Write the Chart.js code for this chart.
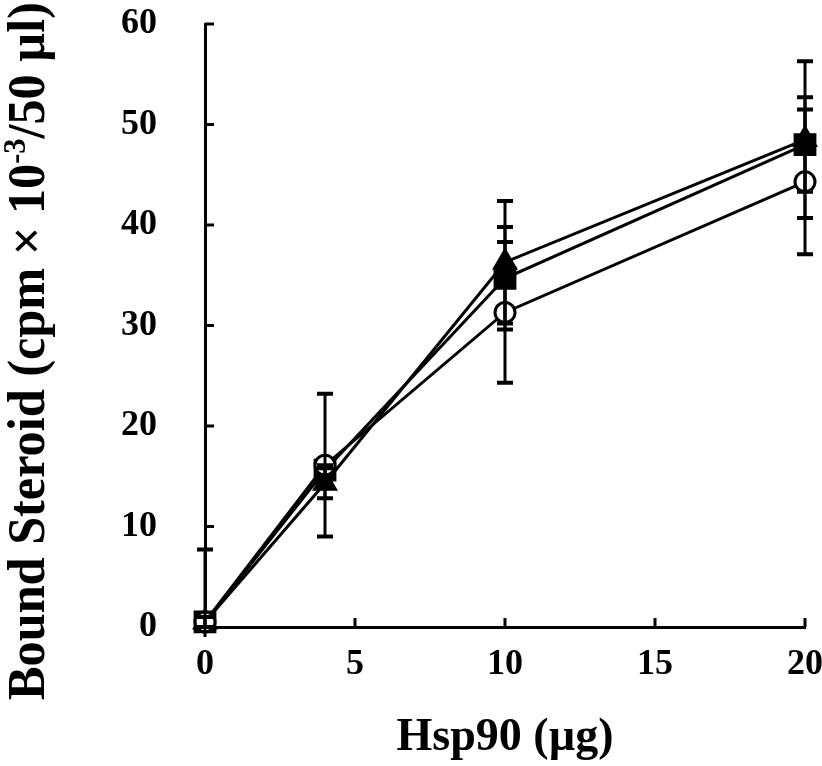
<!DOCTYPE html>
<html>
<head>
<meta charset="utf-8">
<script src="https://cdn.jsdelivr.net/npm/chart.js@4"></script>
<style>
  html, body { margin: 0; padding: 0; background: #fff; }
  #wrap { width: 822px; height: 766px; }
</style>
</head>
<body>
<div id="wrap"><canvas id="chart" width="822" height="766"></canvas></div>
<script>
// Hsp90 amounts (x) and bound steroid readings for the three series
const hsp90 = [0, 4, 10, 20];
const circleVals = [0.5, 16.1, 31.3, 44.3];
const circleErr = [7.2, 7.1, 7.0, 7.2];
const squareVals = [0.5, 15.6, 34.7, 48.0];
const squareErr = [0.5, 0.5, 5.1, 4.7];
const triangleVals = [0.5, 14.3, 36.3, 48.5];
const triangleErr = [0.5, 1.5, 6.1, 7.8];
const xTicks = [0, 5, 10, 15, 20];
const yTicks = [0, 10, 20, 30, 40, 50, 60];

const SERIF = '"Liberation Serif", "Times New Roman", serif';

const toPoints = vals => vals.map((v, i) => ({ x: hsp90[i], y: v }));

// keep the plot box fixed: no label overflow padding from the scales
const fixScale = (s, size) => {
  if (s.isHorizontal()) s.height = size; else s.width = size;
  s.paddingTop = 0;
  s.paddingBottom = 0;
  s.paddingLeft = 0;
  s.paddingRight = 0;
};

// Ticks pointing into the plot area
const innerTicks = {
  id: 'innerTicks',
  beforeDatasetsDraw(chart) {
    const { ctx, chartArea, scales: { x, y } } = chart;
    ctx.save();
    ctx.strokeStyle = '#000';
    ctx.lineWidth = 3;
    ctx.beginPath();
    xTicks.forEach(v => {
      const px = x.getPixelForValue(v);
      ctx.moveTo(px, chartArea.bottom);
      ctx.lineTo(px, chartArea.bottom - 9);
    });
    yTicks.forEach(v => {
      const py = y.getPixelForValue(v);
      ctx.moveTo(chartArea.left, py);
      ctx.lineTo(chartArea.left + 9, py);
    });
    ctx.stroke();
    ctx.restore();
  }
};

// Vertical error bars with caps, drawn over the markers
const errorBars = {
  id: 'errorBars',
  afterDatasetsDraw(chart) {
    const { ctx, chartArea, scales: { x, y } } = chart;
    ctx.save();
    ctx.beginPath();
    ctx.rect(chartArea.left - 30, chartArea.top - 10, chartArea.width + 60, chartArea.height + 20);
    ctx.clip();
    ctx.strokeStyle = '#000';
    chart.data.datasets.forEach(ds => {
      ds.data.forEach((pt, i) => {
        const e = ds.errors[i];
        const px = x.getPixelForValue(pt.x);
        const top = y.getPixelForValue(pt.y + e);
        const bot = y.getPixelForValue(pt.y - e);
        ctx.lineWidth = 3;
        ctx.beginPath();
        ctx.moveTo(px, top);
        ctx.lineTo(px, bot);
        ctx.stroke();
        ctx.lineWidth = 4;
        ctx.beginPath();
        ctx.moveTo(px - 8, top);
        ctx.lineTo(px + 8, top);
        ctx.moveTo(px - 8, bot);
        ctx.lineTo(px + 8, bot);
        ctx.stroke();
      });
    });
    ctx.restore();
  }
};

// Rotated y title with a superscript exponent
const yTitle = {
  id: 'yTitle',
  afterDraw(chart) {
    const { ctx } = chart;
    const parts = [
      { t: 'Bound Steroid (cpm \u00d7 10', sup: false },
      { t: '-3', sup: true },
      { t: '/50 \u00b5l)', sup: false }
    ];
    const mainFont = 'bold 48px ' + SERIF;
    const supFont = 'bold 29px ' + SERIF;
    ctx.save();
    let total = 0;
    parts.forEach(p => {
      ctx.font = p.sup ? supFont : mainFont;
      p.w = ctx.measureText(p.t).width;
      total += p.w;
    });
    ctx.translate(44, 700);
    ctx.rotate(-Math.PI / 2);
    ctx.scale(698 / total, 1.12);
    ctx.fillStyle = '#000';
    ctx.textBaseline = 'alphabetic';
    let pos = 0;
    parts.forEach(p => {
      ctx.font = p.sup ? supFont : mainFont;
      ctx.fillText(p.t, pos, p.sup ? -17 : 0);
      pos += p.w;
    });
    ctx.restore();
  }
};

const lineStyle = {
  borderColor: '#000',
  borderWidth: 3,
  tension: 0,
  pointBorderColor: '#000',
  pointBorderWidth: 3,
  clip: false
};

new Chart(document.getElementById('chart'), {
  type: 'line',
  data: {
    datasets: [
      Object.assign({
        label: 'circle',
        data: toPoints(circleVals),
        errors: circleErr,
        pointStyle: 'circle',
        pointRadius: 10,
        pointBackgroundColor: '#fff'
      }, lineStyle),
      Object.assign({
        label: 'square',
        data: toPoints(squareVals),
        errors: squareErr,
        pointStyle: 'rect',
        pointRadius: 14,
        pointBackgroundColor: '#000'
      }, lineStyle),
      Object.assign({
        label: 'triangle',
        data: toPoints(triangleVals),
        errors: triangleErr,
        pointStyle: 'triangle',
        pointRadius: 12,
        pointBackgroundColor: '#000'
      }, lineStyle)
    ]
  },
  options: {
    responsive: false,
    animation: false,
    layout: { autoPadding: false, padding: { left: 0, top: 24, right: 17, bottom: 0 } },
    plugins: {
      legend: { display: false },
      tooltip: { enabled: false }
    },
    scales: {
      x: {
        type: 'linear',
        min: 0,
        max: 20,
        afterFit: s => fixScale(s, 139),
        afterBuildTicks: s => { s.ticks = xTicks.map(v => ({ value: v })); },
        grid: { display: false, drawTicks: false, tickLength: 0 },
        border: { display: true, color: '#000', width: 3 },
        ticks: {
          color: '#000',
          padding: 16,
          font: { family: SERIF, size: 36, weight: 'bold' }
        },
        title: {
          display: true,
          text: 'Hsp90 (\u00b5g)',
          color: '#000',
          font: { family: SERIF, size: 46, weight: 'bold' },
          padding: { top: 0, bottom: 0 }
        }
      },
      y: {
        type: 'linear',
        min: 0,
        max: 60,
        afterFit: s => fixScale(s, 205),
        afterBuildTicks: s => { s.ticks = yTicks.map(v => ({ value: v })); },
        grid: { display: false, drawTicks: false, tickLength: 0 },
        border: { display: true, color: '#000', width: 3 },
        ticks: {
          color: '#000',
          padding: 48,
          font: { family: SERIF, size: 36, weight: 'bold' }
        }
      }
    }
  },
  plugins: [innerTicks, errorBars, yTitle]
});
</script>
</body>
</html>
